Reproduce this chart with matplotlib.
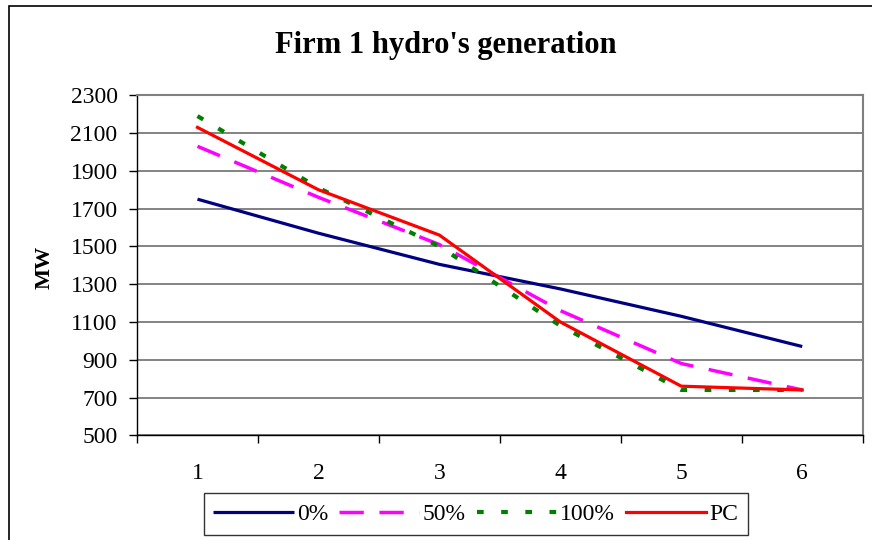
import matplotlib
matplotlib.use('Agg')
import matplotlib.pyplot as plt
from matplotlib.patches import Rectangle

plt.rcParams['font.family'] = ['Liberation Serif', 'DejaVu Serif']

# data
periods = [1, 2, 3, 4, 5, 6]
gen_0 = [1750, 1570, 1405, 1275, 1130, 970]
gen_50 = [2030, 1760, 1510, 1160, 880, 740]
gen_100 = [2190, 1810, 1500, 1080, 740, 740]
gen_pc = [2130, 1800, 1560, 1100, 760, 740]
y_ticks = [500, 700, 900, 1100, 1300, 1500, 1700, 1900, 2100, 2300]

W, H = 872, 540
fig = plt.figure(figsize=(W / 100, H / 100), dpi=100)
ax = fig.add_axes([137 / W, 1 - 435.3 / H, (862.7 - 137) / W, 340 / H])

ax.plot(periods, gen_0, color='#000080', lw=2.3, label='0%', solid_capstyle='butt')
ax.plot(periods, gen_50, color='#FF00FF', lw=2.5, dashes=(7, 4.5), label='50%')
ax.plot(periods, gen_100, color='#008000', lw=3.0, dashes=(1.6, 4.2), label='100%')
ax.plot(periods, gen_pc, color='#FF0000', lw=2.3, label='PC')

ax.set_ylim(500, 2300)
ax.set_yticks(y_ticks)
ax.set_xlim(0.5, 6.5)
ax.set_xticks([p - 0.5 for p in periods] + [6.5])
ax.set_xticklabels([])
ax.set_xticks(periods, minor=True)
ax.set_xticklabels([str(p) for p in periods], minor=True)

ax.tick_params(axis='y', direction='out', length=6, width=1, labelsize=17, pad=8)
ax.tick_params(axis='x', which='major', direction='out', length=6, width=1)
ax.tick_params(axis='x', which='minor', length=0, labelsize=17, pad=20)

ax.grid(axis='y', color='#6e6e6e', lw=1.2)
ax.set_axisbelow(True)
for s in ['top', 'right']:
    ax.spines[s].set_color('#808080')
    ax.spines[s].set_linewidth(1.5)
for s in ['left', 'bottom']:
    ax.spines[s].set_color('black')
    ax.spines[s].set_linewidth(1)

fig.text(446 / W, 1 - 45 / H, "Firm 1 hydro's generation", ha='center', va='center',
         fontsize=22, fontweight='bold')
fig.text(45 / W, 1 - 267 / H, 'MW', ha='center', va='center', rotation=90,
         fontsize=16, fontweight='bold')

leg = fig.legend(loc='center', bbox_to_anchor=(476 / W, 1 - 514 / H), ncol=4,
                 fontsize=17, frameon=True, fancybox=False, edgecolor='black',
                 handlelength=3.4, handletextpad=0.15, columnspacing=0.45,
                 borderpad=0.42, borderaxespad=0)
leg.get_frame().set_linewidth(1)

fig.add_artist(Rectangle((9 / W, -0.1), 1.0, (H - 6) / H + 0.1, transform=fig.transFigure,
                         fill=False, ec='black', lw=1.2, clip_on=False))

fig.savefig('out.png', dpi=100)
